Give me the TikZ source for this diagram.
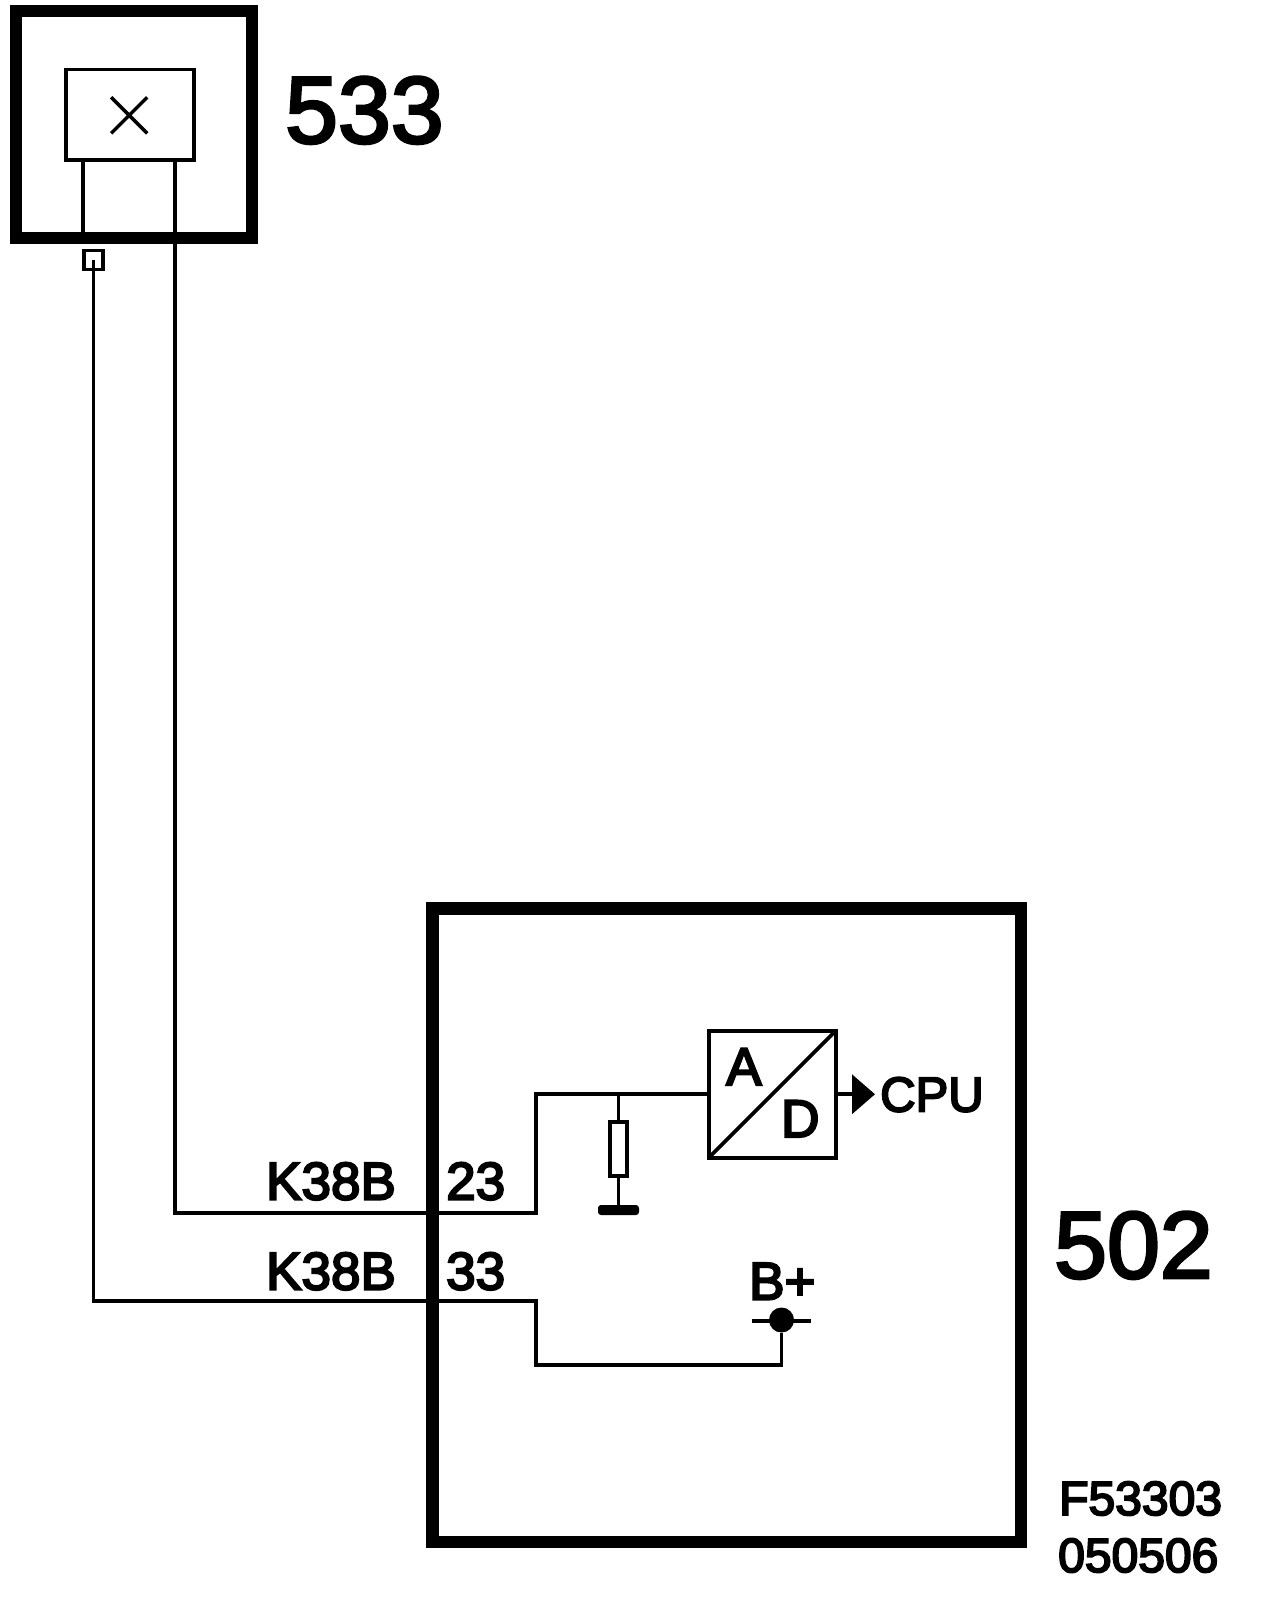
\documentclass[tikz,border=0pt]{standalone}
\usepackage{fontspec}
\newfontfamily\labelfont[FakeBold=4]{Liberation Sans}
\newfontfamily\bigfont[FakeBold=3]{Liberation Sans}
\usetikzlibrary{arrows.meta,positioning,shapes.misc}
\tikzstyle{module}=[rectangle,draw,line width=12pt,outer sep=0pt,inner sep=0pt]
\tikzstyle{block}=[rectangle,draw,line width=4pt,outer sep=0pt,inner sep=0pt]
\tikzstyle{wire}=[line width=3.8pt]
\tikzstyle{biglabel}=[anchor=base west,inner sep=0pt,font=\bigfont\fontsize{95}{95}\selectfont]
\tikzstyle{pinlabel}=[anchor=base west,inner sep=0pt,font=\labelfont\fontsize{53}{53}\selectfont]
\tikzstyle{smalllabel}=[anchor=base west,inner sep=0pt,font=\labelfont\fontsize{48}{48}\selectfont]
\begin{document}
\begin{tikzpicture}[x=1pt,y=-1pt]
            \useasboundingbox (0,0) rectangle (1264,1608);

            % 533 PART

            \node[module,minimum width=236pt,minimum height=226pt] (m533) at (134,124.5) {};
            \node[block,line width=3.5pt,minimum width=128pt,minimum height=90.5pt] (sensor) at (130,114.75) {};
            \node[draw,cross out,line width=3.5pt,inner sep=0pt,outer sep=0pt,minimum size=36pt] (cross) at (129.2,115.3) {};
            \node[block,line width=3.5pt,minimum size=19pt] (plug) at (93.5,260) {};
            \node[biglabel] (l533) at (285,143) {533};

            \coordinate (s1) at (83.3,160);
            \coordinate (s1end) at (83.3,232);
            \coordinate (s2) at (175,160);
            \draw[wire] (s1) -- (s1end);

            % 502 PART

            \node[module,line width=12.5pt,minimum width=588.5pt,minimum height=633.5pt] (m502) at (726.75,1225.25) {};
            \node[block,minimum width=126.5pt,minimum height=126.5pt] (adc) at (772.25,1094.25) {};
            \node[block,line width=3.5pt,minimum width=17pt,minimum height=54pt] (res) at (618.5,1149) {};
            \node[rectangle,fill,rounded corners=3pt,minimum width=41pt,minimum height=10pt,inner sep=0pt,outer sep=0pt] (gnd) at (618.5,1210) {};
            \node[circle,fill,minimum size=25pt,inner sep=0pt,outer sep=0pt] (dot) at (781.5,1320) {};
            \coordinate (barw) at (751.7,1321);
            \coordinate (bare) at (810.7,1321);
            \coordinate (cpuout) at (875,1094.25);

            \node[pinlabel] (la) at (726,1085) {A};
            \node[pinlabel] (ld) at (781,1137) {D};
            \node[pinlabel,font=\labelfont\fontsize{49}{49}\selectfont] (lcpu) at (880,1111.5) {CPU};
            \node[pinlabel] (lb) at (749,1299.5) {B+};
            \node[biglabel] (l502) at (1054,1278) {502};
            \node[pinlabel] (k23) at (266,1199.5) {K38B};
            \node[pinlabel] (k33) at (266,1289.5) {K38B};
            \node[pinlabel] (p23) at (446,1199.5) {23};
            \node[pinlabel] (p33) at (446,1289.5) {33};
            \node[smalllabel] (f1) at (1059,1515) {F53303};
            \node[smalllabel] (f2) at (1058,1572) {050506};

            \coordinate (j23) at (536,1213);
            \coordinate (j33) at (536,1301.3);
            \coordinate (j33b) at (536,1365.3);

            \draw (adc.south west) [wire] -- (adc.north east);
            \draw[wire] (res.north |- adc.west) -- (res.north);
            \draw[wire] (res.south) -- (gnd.north);
            \draw[wire] (barw) -- (bare);
            \draw[wire,-{Triangle[length=23pt,width=39pt]}] (adc.east) -- (cpuout);

            % Connections of modules

            \draw[wire] (s2) |- (j23) -- (j23 |- adc.west) -- (adc.west);
            \draw[wire] (plug.center) |- (j33) -- (j33b) -| (dot.south);
\end{tikzpicture}
\end{document}
